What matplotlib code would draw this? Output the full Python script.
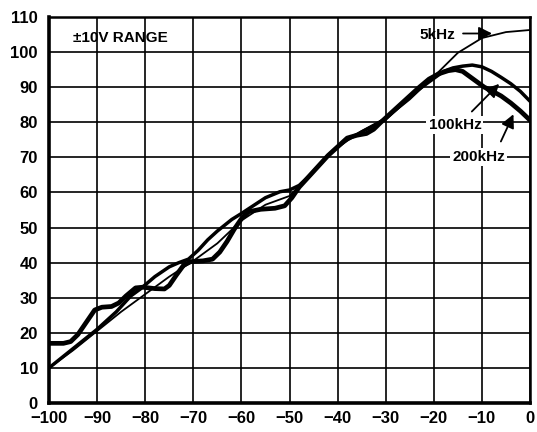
import matplotlib
matplotlib.use("Agg")
import matplotlib.pyplot as plt

plt.rcParams['font.family'] = ['Liberation Sans', 'DejaVu Sans']

# ---- data ----
x_ticks = [-100, -90, -80, -70, -60, -50, -40, -30, -20, -10, 0]
y_ticks = [0, 10, 20, 30, 40, 50, 60, 70, 80, 90, 100, 110]

x5 = [-100, -95, -90, -85, -80, -75, -70, -65, -60, -55, -50, -45, -40, -35, -30,
      -25, -20, -15, -10, -5, 0]
y5 = [10, 15, 20.5, 26, 31, 36, 40.5, 45.5, 52, 56.5, 59, 66, 73, 77.5, 81,
      86.5, 93, 99.8, 104, 105.7, 106.3]

x100 = [-100, -95, -90, -86, -83, -81, -78, -75, -73, -71, -69, -67, -65, -62, -60,
        -58, -55, -52, -50, -48, -46, -44, -42, -40, -38, -36, -34, -32, -30, -28,
        -26, -24, -22, -20, -18, -16, -14, -12, -10, -8, -6, -4, -2, 0]
y100 = [10, 15.5, 21, 26, 30.5, 32.5, 36, 38.8, 40, 41, 43.5, 46.5, 49, 52.3, 54,
        55.8, 58.5, 60.2, 60.7, 62, 64.5, 67.5, 70.5, 73, 75, 76.5, 78, 79.5, 81, 83.5,
        86, 88.5, 90.5, 92.5, 94.5, 95.5, 96, 96.3, 95.8, 94.5, 92.8, 91, 88.8, 86]

x200 = [-100, -97, -95.5, -94, -92, -90.5, -89, -87, -85.5, -84, -82, -80.5, -78, -76,
        -75, -73.5, -72, -70.5, -68, -66, -64.5, -63, -61.5, -60, -58.5, -56, -53, -51,
        -49.5, -48, -46, -44, -42, -40, -38, -36, -34, -32.5, -31, -29, -27, -25, -23,
        -21, -19, -17, -15.5, -14, -12.5, -11, -9.5, -8, -6, -4, -2, 0]
y200 = [17, 17, 17.5, 19.5, 23.5, 26.5, 27.3, 27.5, 28.5, 30.5, 32.8, 33, 32.6, 32.5,
        33.5, 36.5, 39.3, 40.3, 40.5, 41, 43, 46, 49.5, 52.5, 54.5, 55.2, 55.5, 56.2,
        58.5, 61.5, 64.5, 67.5, 70.5, 73, 75.5, 76.3, 76.8, 78, 80, 82.5, 85, 87.5, 90,
        92.3, 93.8, 94.7, 95, 94.5, 93, 91.5, 90, 89, 87.5, 85.5, 83.2, 80.6]

fig = plt.figure(figsize=(5.37, 4.32), dpi=100)
ax = fig.add_axes([49/537, 29/432, 481/537, 386/432])

ax.plot(x5, y5, color='black', lw=1.3, solid_capstyle='round', solid_joinstyle='round', zorder=3)
ax.plot(x100, y100, color='black', lw=2.5, solid_capstyle='round', solid_joinstyle='round', zorder=3)
ax.plot(x200, y200, color='black', lw=3.4, solid_capstyle='round', solid_joinstyle='round', zorder=3)

ax.set_xlim(-100, 0)
ax.set_ylim(0, 110)
ax.set_xticks(x_ticks)
ax.set_yticks(y_ticks)
ax.set_xticklabels([("\u2212" + str(-v)) if v < 0 else str(v) for v in x_ticks])
ax.set_yticklabels([str(v) for v in y_ticks])
ax.tick_params(length=0, labelsize=12, pad=8)
for lab in ax.get_xticklabels() + ax.get_yticklabels():
    lab.set_fontweight('bold')
ax.tick_params(axis='x', pad=6)

ax.grid(True, color='black', lw=1.2)
ax.set_axisbelow(True)
for side, w in [('left', 2.6), ('bottom', 2.6), ('right', 1.8), ('top', 1.8)]:
    ax.spines[side].set_linewidth(w)
    ax.spines[side].set_color('black')

ax.text(-95, 104, "\u00b110V RANGE", fontsize=11, fontweight='bold', ha='left', va='center')

ax.text(-23, 104.8, "5kHz", fontsize=11, fontweight='bold', ha='left', va='center')
ax.annotate("", xy=(-7.3, 105.3), xytext=(-14.5, 105.3),
            arrowprops=dict(arrowstyle='-|>', color='black', lw=1.3, mutation_scale=20))

ax.text(-15.6, 79.3, "100kHz", fontsize=11, fontweight='bold', ha='center', va='center',
        bbox=dict(facecolor='white', edgecolor='none', pad=1.5), zorder=4)
ax.annotate("", xy=(-6, 91.5), xytext=(-12.5, 82.5),
            arrowprops=dict(arrowstyle='-|>', color='black', lw=1.3, mutation_scale=20), zorder=5)

ax.text(-10.7, 70.2, "200kHz", fontsize=11, fontweight='bold', ha='center', va='center',
        bbox=dict(facecolor='white', edgecolor='none', pad=1.5), zorder=4)
ax.annotate("", xy=(-3.2, 83), xytext=(-6.3, 73.8),
            arrowprops=dict(arrowstyle='-|>', color='black', lw=1.3, mutation_scale=20), zorder=5)

fig.savefig("out.png", dpi=100)
